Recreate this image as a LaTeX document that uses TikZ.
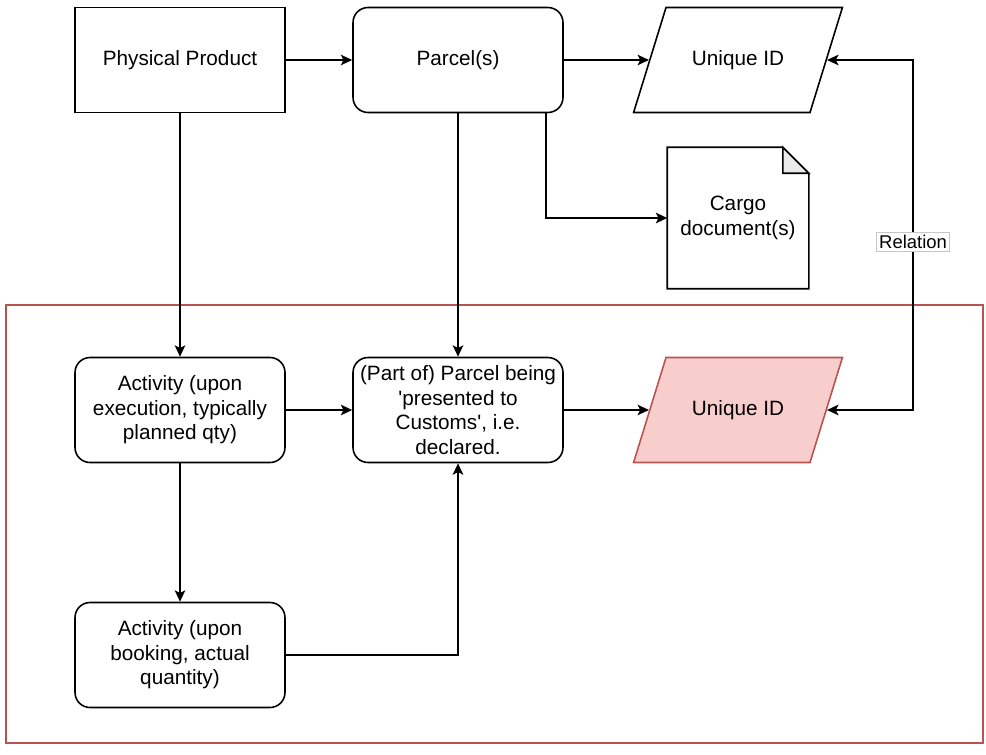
\documentclass[tikz,border=0pt]{standalone}
\usepackage{fontspec}
\newfontfamily\diafont{Liberation Sans}
\usetikzlibrary{shapes.geometric,arrows.meta}
\definecolor{idfill}{HTML}{F8CECC}
\definecolor{idline}{HTML}{B85450}
\definecolor{foldgray}{HTML}{EBEBEB}

\begin{document}
\begin{tikzpicture}[x=0.02cm, y=-0.02cm, line width=0.9pt,
  every node/.style={font=\diafont\fontsize{11.8}{13.9}\selectfont, align=center},
  box/.style={rectangle, draw, minimum width=4.2cm, minimum height=2.1cm},
  rbox/.style={box, rounded corners=0.3cm},
  data/.style={trapezium, draw, trapezium left angle=53, trapezium right angle=127,
               trapezium stretches=true, minimum width=4.2cm, minimum height=2.1cm},
  arr/.style={-{Stealth[length=6.5pt,width=6pt,inset=1.5pt]}},
  rellabel/.style={draw=gray!45, fill=white, line width=0.4pt, inner sep=1.5pt,
                   font=\diafont\fontsize{10.5}{12}\selectfont}]

\useasboundingbox (0,0) rectangle (986,754);

% declared part
\draw[idline, line width=0.6pt] (6,305) rectangle (983,743);

\node[box]  (product) at (180,60) {Physical Product};
\node[rbox] (parcel)  at (458,60) {Parcel(s)};
\node[data] (uidtop)  at (738,60) {Unique ID};
\node[minimum width=2.8cm, minimum height=2.8cm] (cargo) at (738,218) {Cargo\\document(s)};
\draw (cargo.north west) -- ([xshift=-0.52cm]cargo.north east)
      -- ([yshift=-0.52cm]cargo.north east) -- (cargo.south east)
      -- (cargo.south west) -- cycle;
\filldraw[fill=foldgray] ([xshift=-0.52cm]cargo.north east)
      -- ([xshift=-0.52cm,yshift=-0.52cm]cargo.north east)
      -- ([yshift=-0.52cm]cargo.north east) -- cycle;

\node[rbox] (act1)   at (180,410) {Activity (upon\\execution, typically\\planned qty)};
\node[rbox] (partof) at (458,410) {(Part of) Parcel being\\'presented to\\Customs', i.e.\\declared.};
\node[data, fill=idfill, draw=idline] (uidred) at (738,410) {Unique ID};
\node[rbox] (act2)   at (180,655) {Activity (upon\\booking, actual\\quantity)};

\draw[arr] (product) -- (parcel);
\draw[arr] (parcel) -- (uidtop.left side);
\draw[arr] ([xshift=-0.36cm]parcel.south east) |- (cargo.west);
\draw[arr] (product) -- (act1);
\draw[arr] (parcel) -- (partof);
\draw[arr] (act1) -- (partof);
\draw[arr] (partof) -- (uidred.left side);
\draw[arr] (act1) -- (act2);
\draw[arr] (act2) -| (partof);
\draw[{Stealth[length=6.5pt,width=6pt,inset=1.5pt]}-{Stealth[length=6.5pt,width=6pt,inset=1.5pt]}]
      (uidtop.right side) -- ++(86,0) |- node[pos=0.26, rellabel] {Relation} (uidred.right side);

\end{tikzpicture}
\end{document}
